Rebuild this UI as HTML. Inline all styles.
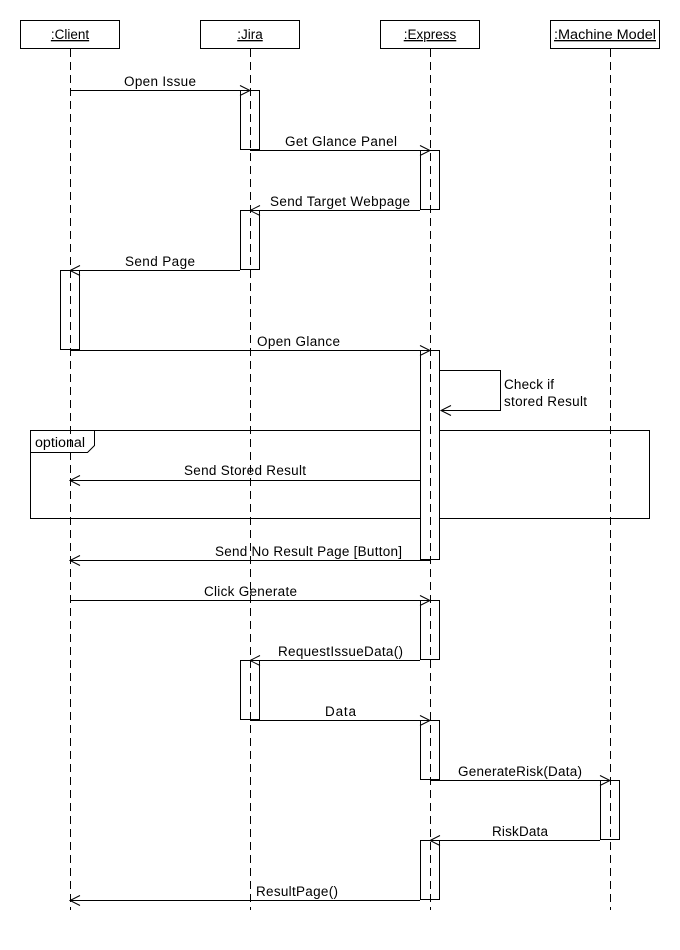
<!DOCTYPE html>
<html><head><meta charset="utf-8"><style>
html,body{margin:0;padding:0;background:#fff;}
svg{display:block;font-family:"Liberation Sans",Arial,sans-serif;font-size:13.5px;}
</style></head><body>
<svg width="680" height="950" viewBox="0 0 680 950" xmlns="http://www.w3.org/2000/svg">
<rect width="680" height="950" fill="#fff"/>
<g fill="#fff" stroke="#000" stroke-width="1">
<rect x="20.5" y="20.5" width="99" height="28"/>
<rect x="200.5" y="20.5" width="99" height="28"/>
<rect x="380.5" y="20.5" width="99" height="28"/>
<rect x="550.5" y="20.5" width="109" height="28"/>
</g>
<g text-anchor="middle" text-decoration="underline" fill="#000">
<text x="70" y="39">:Client</text>
<text x="250" y="39">:Jira</text>
<text x="430" y="39">:Express</text>
<text x="605" y="39" textLength="102" lengthAdjust="spacingAndGlyphs">:Machine Model</text>
</g>
<g fill="none" stroke="#000">
<rect x="30.5" y="430.5" width="619" height="88"/>
<path d="M30.5 452.5 H87.5 L94.5 445.5 V430.5"/>
</g>
<text x="35" y="447" fill="#000" textLength="50" lengthAdjust="spacingAndGlyphs">optional</text>
<g fill="#fff" stroke="#000">
<rect x="240.5" y="90.5" width="19" height="59"/>
<rect x="420.5" y="150.5" width="19" height="59"/>
<rect x="240.5" y="210.5" width="19" height="59"/>
<rect x="60.5" y="270.5" width="19" height="79"/>
<rect x="420.5" y="350.5" width="19" height="209"/>
<rect x="420.5" y="600.5" width="19" height="59"/>
<rect x="240.5" y="660.5" width="19" height="59"/>
<rect x="420.5" y="720.5" width="19" height="59"/>
<rect x="600.5" y="780.5" width="19" height="59"/>
<rect x="420.5" y="840.5" width="19" height="59"/>
</g>
<g stroke="#000" stroke-dasharray="8,5">
<line x1="70.5" y1="49" x2="70.5" y2="910"/>
<line x1="250.5" y1="49" x2="250.5" y2="910"/>
<line x1="430.5" y1="49" x2="430.5" y2="910"/>
<line x1="610.5" y1="49" x2="610.5" y2="910"/>
</g>
<g stroke="#000" fill="none">
<path d="M70 90.5H250 M240 85.5L250 90.5L240 95.5"/>
<path d="M250 150.5H430 M420 145.5L430 150.5L420 155.5"/>
<path d="M420 210.5H250 M260 205.5L250 210.5L260 215.5"/>
<path d="M240 270.5H70 M80 265.5L70 270.5L80 275.5"/>
<path d="M70 350.5H430 M420 345.5L430 350.5L420 355.5"/>
<path d="M440 370.5H500.5V410.5H441 M451 405.5L441 410.5L451 415.5"/>
<path d="M420 480.5H70 M80 475.5L70 480.5L80 485.5"/>
<path d="M430 560.5H70 M80 555.5L70 560.5L80 565.5"/>
<path d="M70 600.5H430 M420 595.5L430 600.5L420 605.5"/>
<path d="M420 660.5H250 M260 655.5L250 660.5L260 665.5"/>
<path d="M250 720.5H430 M420 715.5L430 720.5L420 725.5"/>
<path d="M430 780.5H610 M600 775.5L610 780.5L600 785.5"/>
<path d="M600 840.5H430 M440 835.5L430 840.5L440 845.5"/>
<path d="M420 900.5H70 M80 895.5L70 900.5L80 905.5"/>
</g>
<g fill="#000" lengthAdjust="spacingAndGlyphs">
<text x="124" y="86" textLength="72">Open Issue</text>
<text x="285" y="146" textLength="112">Get Glance Panel</text>
<text x="270" y="206" textLength="140">Send Target Webpage</text>
<text x="125" y="266" textLength="70">Send Page</text>
<text x="257" y="346" textLength="83">Open Glance</text>
<text x="504" y="389" textLength="50">Check if</text>
<text x="504" y="406" textLength="83">stored Result</text>
<text x="184" y="475" textLength="122">Send Stored Result</text>
<text x="215" y="556" textLength="187">Send No Result Page [Button]</text>
<text x="204" y="596" textLength="93">Click Generate</text>
<text x="278" y="656" textLength="125">RequestIssueData()</text>
<text x="325" y="716" textLength="31">Data</text>
<text x="458" y="776" textLength="124">GenerateRisk(Data)</text>
<text x="492" y="836" textLength="56">RiskData</text>
<text x="256" y="896" textLength="82">ResultPage()</text>
</g>
</svg>
</body></html>
